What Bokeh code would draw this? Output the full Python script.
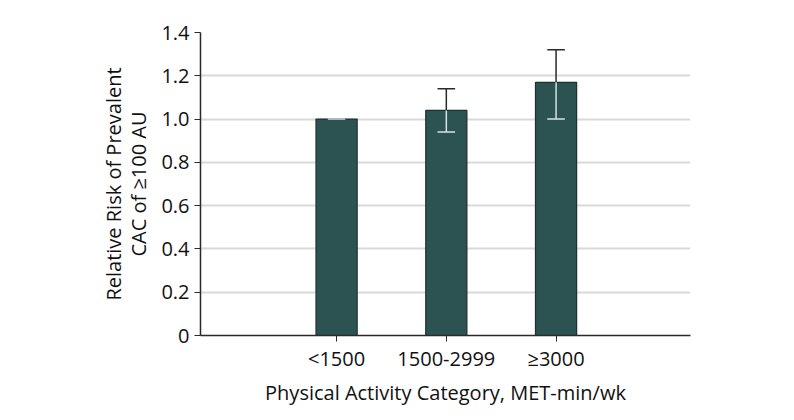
from bokeh.plotting import figure
from bokeh.models import Range1d, FixedTicker, PrintfTickFormatter, ColumnDataSource
from bokeh.embed import file_html
from bokeh.resources import INLINE

categories = ["<1500", "1500-2999", "\u22653000"]
rr = [1.00, 1.04, 1.17]
ci_low = [1.00, 0.94, 1.00]
ci_high = [1.00, 1.14, 1.32]
y_ticks = [0, 0.2, 0.4, 0.6, 0.8, 1.0, 1.2, 1.4]

FONT = "Open Sans"
BAR = "#2c5251"
DARK = "#2a2a2a"
LIGHT = "#d2e6e6"

xs = [1, 2, 3]
src = ColumnDataSource(dict(x=xs, rr=rr, lo=ci_low, hi=ci_high,
                            cl=[x - 0.08 for x in xs], cr=[x + 0.08 for x in xs]))

p = figure(width=794, height=420, output_backend="svg", toolbar_location=None,
           x_range=Range1d(-0.24, 4.225), y_range=Range1d(0, 1.4),
           min_border_left=200, min_border_right=104, min_border_top=32, min_border_bottom=85)
p.outline_line_color = None
p.background_fill_color = "white"
p.border_fill_color = "white"

p.vbar(x="x", top="rr", bottom=0, width=0.375, source=src,
       fill_color=BAR, line_color="#1e3030", line_width=1.2)
# error bars: upper part dark (outside bar), lower part light (inside bar)
p.segment(x0="x", y0="rr", x1="x", y1="hi", source=src, line_color=DARK, line_width=1.5)
p.segment(x0="cl", y0="hi", x1="cr", y1="hi", source=src, line_color=DARK, line_width=1.5)
p.segment(x0="x", y0="lo", x1="x", y1="rr", source=src, line_color=LIGHT, line_width=1.5)
p.segment(x0="cl", y0="lo", x1="cr", y1="lo", source=src, line_color=LIGHT, line_width=1.5)

p.xgrid.grid_line_color = None
p.ygrid.grid_line_color = "#d9d9d9"
p.ygrid.grid_line_width = 2
p.ygrid.ticker = FixedTicker(ticks=y_ticks)

p.yaxis.ticker = FixedTicker(ticks=y_ticks)
p.yaxis.formatter = PrintfTickFormatter(format="%.1f")
p.yaxis.major_label_overrides = {0: "0"}
p.xaxis.ticker = FixedTicker(ticks=xs)
p.xaxis.major_label_overrides = {x: c for x, c in zip(xs, categories)}

for ax in (p.xaxis[0], p.yaxis[0]):
    ax.axis_line_color = DARK
    ax.axis_line_width = 1.5
    ax.major_tick_line_color = DARK
    ax.major_tick_line_width = 1
    ax.major_tick_in = 0
    ax.major_tick_out = 6
    ax.minor_tick_line_color = None
    ax.major_label_text_font = FONT
    ax.major_label_text_font_size = "20px"
    ax.major_label_text_color = "#111111"
    ax.axis_label_text_font = FONT
    ax.axis_label_text_font_size = "20px"
    ax.axis_label_text_font_style = "normal"
    ax.axis_label_text_color = "#111111"

p.xaxis.axis_label = "Physical Activity Category, MET-min/wk"
p.yaxis.axis_label = "Relative Risk of Prevalent\nCAC of \u2265100 AU"
p.yaxis.axis_label_text_line_height = 0.95
p.yaxis.major_label_standoff = 5
p.xaxis.major_label_standoff = 3
p.xaxis.axis_label_standoff = 4
p.yaxis.axis_label_standoff = 6

open("out.html", "w").write(file_html(p, INLINE))
